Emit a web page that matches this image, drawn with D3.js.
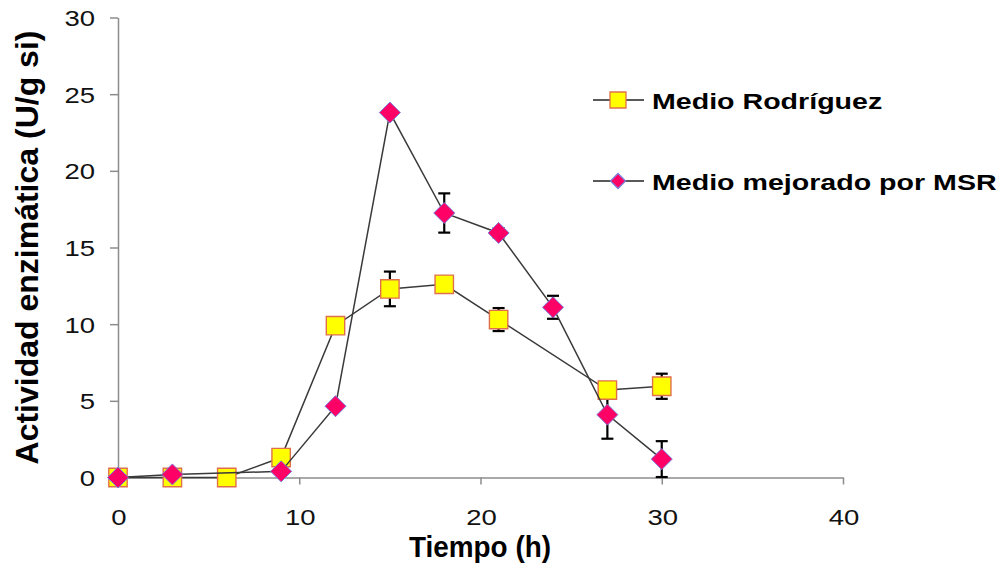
<!DOCTYPE html>
<html lang="es">
<head>
<meta charset="utf-8">
<title>Actividad enzimática</title>
<script src="https://cdn.jsdelivr.net/npm/d3@7"></script>
<style>
  html, body { margin: 0; padding: 0; background: #ffffff; }
  svg { display: block; font-family: "Liberation Sans", Arial, sans-serif; }
</style>
</head>
<body>
<svg id="chart" width="1005" height="569"></svg>
<script>
// Series: enzyme activity (U/g si) over fermentation time (h)
const tiempoRodriguez = [0, 3, 6, 9, 12, 15, 18, 21, 27, 30];
const actividadRodriguez = [0, 0, 0, 1.3, 9.9, 12.3, 12.6, 10.3, 5.7, 5.95];
const errorRodriguez = [0, 0, 0, 0, 0, 1.13, 0, 0.75, 0, 0.82];

const tiempoMejorado = [0, 3, 9, 12, 15, 18, 21, 24, 27, 30];
const actividadMejorado = [0, 0.2, 0.4, 4.65, 23.8, 17.25, 15.95, 11.1, 4.1, 1.2];
const errorMejorado = [0, 0, 0, 0, 0, 1.28, 0.3, 0.75, 1.57, 1.17];

const xTicks = [0, 10, 20, 30, 40];
const yTicks = [0, 5, 10, 15, 20, 25, 30];

const nombresSeries = ["Medio Rodríguez", "Medio mejorado por MSR"];
const tituloX = "Tiempo (h)";
const tituloY = "Actividad enzimática (U/g si)";

const svg = d3.select("#chart");

const x = d3.scaleLinear().domain([0, 40]).range([118, 843]);
const y = d3.scaleLinear().domain([0, 30]).range([477.5, 17.5]);

const axisColor = "#8c8c8c";
const lineColor = "#3a3a3a";
const squareFill = "#ffff00", squareStroke = "#e0704c";
const diamondFill = "#ff0066", diamondStroke = "#7b7bd8";

// Axes (lines and ticks only; labels drawn separately)
const gx = svg.append("g")
  .attr("transform", `translate(0,${y(0)})`)
  .call(d3.axisBottom(x).tickValues(xTicks).tickSize(7).tickSizeOuter(0).tickFormat(""));
const gy = svg.append("g")
  .attr("transform", `translate(${x(0)},0)`)
  .call(d3.axisLeft(y).tickValues(yTicks).tickSize(8).tickSizeOuter(0).tickFormat(""));
[gx, gy].forEach(g => {
  g.select(".domain").attr("stroke", axisColor).attr("stroke-width", 1.5);
  g.selectAll(".tick line").attr("stroke", axisColor).attr("stroke-width", 1.5);
});

// Tick labels
svg.append("g").selectAll("text").data(yTicks).join("text")
  .attr("text-anchor", "end")
  .attr("font-size", 22)
  .attr("fill", "#111")
  .attr("transform", d => `translate(95,${y(d) + 8.5}) scale(1.25,1)`)
  .text(d => d);
svg.append("g").selectAll("text").data(xTicks).join("text")
  .attr("text-anchor", "middle")
  .attr("font-size", 22)
  .attr("fill", "#111")
  .attr("transform", d => `translate(${x(d) + 1},525) scale(1.25,1)`)
  .text(d => d);

// Axis titles
svg.append("text")
  .attr("text-anchor", "middle")
  .attr("font-size", 32)
  .attr("font-weight", "bold")
  .attr("transform", "translate(37.5,247.5) rotate(-90)")
  .text(tituloY);
svg.append("text")
  .attr("x", 480).attr("y", 557)
  .attr("text-anchor", "middle")
  .attr("font-size", 30)
  .attr("font-weight", "bold")
  .attr("textLength", 142)
  .attr("lengthAdjust", "spacingAndGlyphs")
  .text(tituloX);

const serieR = tiempoRodriguez.map((t, i) => ({ t, v: actividadRodriguez[i], e: errorRodriguez[i] }));
const serieM = tiempoMejorado.map((t, i) => ({ t, v: actividadMejorado[i], e: errorMejorado[i] }));

const line = d3.line().x(d => x(d.t)).y(d => y(d.v));

function drawErrors(data) {
  const g = svg.append("g").attr("stroke", "#000").attr("stroke-width", 2.2).attr("fill", "none");
  data.filter(d => d.e > 0).forEach(d => {
    const cx = x(d.t), y1 = y(d.v + d.e), y2 = y(d.v - d.e);
    g.append("line").attr("x1", cx).attr("x2", cx).attr("y1", y1).attr("y2", y2);
    g.append("line").attr("x1", cx - 6).attr("x2", cx + 6).attr("y1", y1).attr("y2", y1);
    g.append("line").attr("x1", cx - 6).attr("x2", cx + 6).attr("y1", y2).attr("y2", y2);
  });
}

function squarePath(s) {
  return `M${-s},${-s}H${s}V${s}H${-s}Z`;
}
function diamondPath(r) {
  return `M0,${-r}L${r},0L0,${r}L${-r},0Z`;
}

// Medio Rodríguez
svg.append("path").datum(serieR).attr("d", line)
  .attr("fill", "none").attr("stroke", lineColor).attr("stroke-width", 1.5);
drawErrors(serieR);
drawErrors(serieM);
svg.append("g").selectAll("path").data(serieR).join("path")
  .attr("d", squarePath(9.2))
  .attr("transform", d => `translate(${x(d.t)},${y(d.v)})`)
  .attr("fill", squareFill).attr("stroke", squareStroke).attr("stroke-width", 1.4);

// Medio mejorado por MSR
svg.append("path").datum(serieM).attr("d", line)
  .attr("fill", "none").attr("stroke", lineColor).attr("stroke-width", 1.5);
svg.append("g").selectAll("path").data(serieM).join("path")
  .attr("d", diamondPath(10.5))
  .attr("transform", d => `translate(${x(d.t)},${y(d.v)})`)
  .attr("fill", diamondFill).attr("stroke", diamondStroke).attr("stroke-width", 1);

// Legend
const legendRows = [
  { name: nombresSeries[0], y: 100, marker: squarePath(8), fill: squareFill, stroke: squareStroke },
  { name: nombresSeries[1], y: 181, marker: diamondPath(7.5), fill: diamondFill, stroke: diamondStroke }
];
const lg = svg.append("g");
legendRows.forEach(r => {
  lg.append("line").attr("x1", 593).attr("x2", 644).attr("y1", r.y).attr("y2", r.y)
    .attr("stroke", "#222").attr("stroke-width", 1.5);
  lg.append("path").attr("d", r.marker).attr("transform", `translate(618,${r.y})`)
    .attr("fill", r.fill).attr("stroke", r.stroke).attr("stroke-width", 1.3);
  lg.append("text")
    .attr("transform", `translate(652,${r.y + 9}) scale(1.3,1)`)
    .attr("font-size", 22).attr("font-weight", "bold")
    .text(r.name);
});
</script>
</body>
</html>
